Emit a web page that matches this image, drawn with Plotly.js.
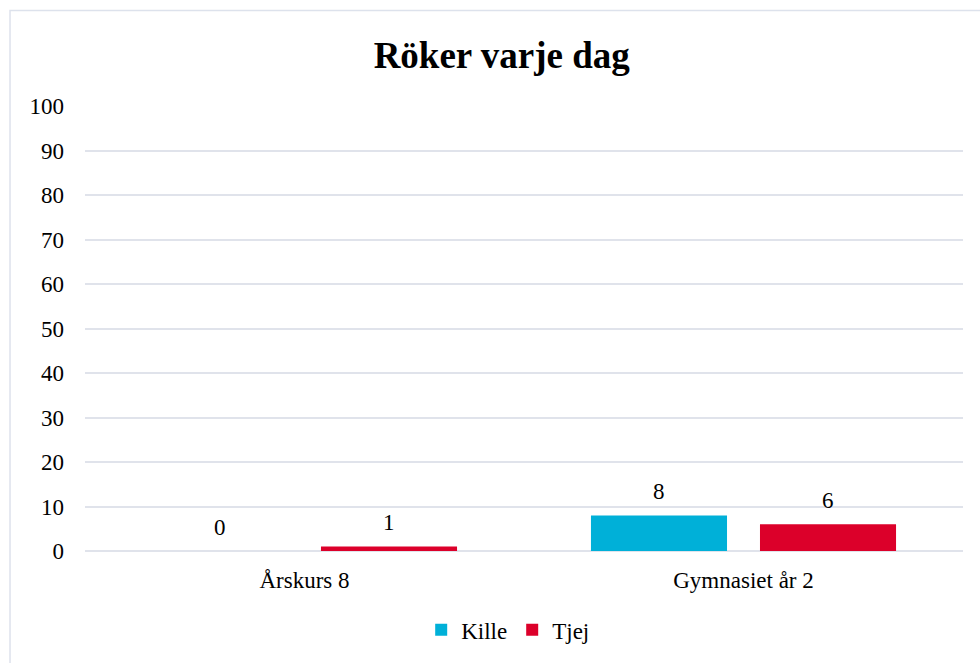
<!DOCTYPE html>
<html><head><meta charset="utf-8">
<script src="https://cdn.plot.ly/plotly-3.0.1.min.js"></script>
<style>html,body{margin:0;padding:0;background:#fff;overflow:hidden}</style>
</head><body>
<div id="chart" style="width:980px;height:663px"></div>
<script>
const categories = ["Årskurs 8", "Gymnasiet år 2"];
const seriesNames = ["Kille", "Tjej"];
const killeValues = [0, 8];
const tjejValues = [1, 6];
const yTicks = [0, 10, 20, 30, 40, 50, 60, 70, 80, 90, 100];

const font = "'Liberation Serif', 'Times New Roman', serif";
const colors = ["#00B0D8", "#DC002A"];
const allSeries = [killeValues, tjejValues];

const traces = allSeries.map((vals, i) => ({
  type: "bar",
  name: seriesNames[i],
  x: categories,
  y: vals,
  marker: {color: colors[i]},
  hoverinfo: "none"
}));

// data labels as annotations tied to the data (offset to each bar in its group)
const annotations = [];
allSeries.forEach((vals, i) => {
  vals.forEach((v, j) => {
    annotations.push({
      x: categories[j], y: v, xref: "x", yref: "y",
      text: String(v), showarrow: false,
      xshift: (i === 0 ? -84.5 : 84.5), yshift: 24,
      font: {family: font, size: 23, color: "#000"}
    });
  });
});

const layout = {
  width: 980, height: 663,
  margin: {l: 85, r: 17, t: 106, b: 110},
  paper_bgcolor: "#fff", plot_bgcolor: "#fff",
  font: {family: font, size: 23, color: "#000"},
  title: {text: "<b>Röker varje dag</b>", font: {family: font, size: 37, color: "#000"},
          x: 0.512, xref: "container", xanchor: "center", y: 0.917, yanchor: "middle"},
  barmode: "group",
  bargap: 0.23,
  bargroupgap: 0.195,
  showlegend: true,
  legend: {orientation: "h", x: 0.482, xanchor: "center", y: -0.177, yanchor: "middle",
           font: {family: font, size: 23, color: "#000"}, itemwidth: 30, traceorder: "normal"},
  xaxis: {type: "category", showgrid: false, zeroline: false, showline: false,
          ticks: "", ticklabelstandoff: 13, tickfont: {family: font, size: 23}},
  yaxis: {range: [0, 100], tickvals: yTicks, ticktext: yTicks.map(String),
          showgrid: true, gridcolor: "#E0E3EB", gridwidth: 2,
          zeroline: true, zerolinecolor: "#E0E3EB", zerolinewidth: 2,
          showline: false, ticks: "", ticklabelstandoff: 20, tickfont: {family: font, size: 23}},
  annotations: annotations,
  shapes: [{type: "rect", xref: "paper", yref: "paper",
            x0: -0.0854, x1: 1.1, y0: -0.4, y1: 1.2148,
            line: {color: "#DDE2EC", width: 1.5}, fillcolor: "rgba(0,0,0,0)", layer: "below"}]
};

Plotly.newPlot("chart", traces, layout, {displayModeBar: false, staticPlot: true});
</script>
</body></html>
